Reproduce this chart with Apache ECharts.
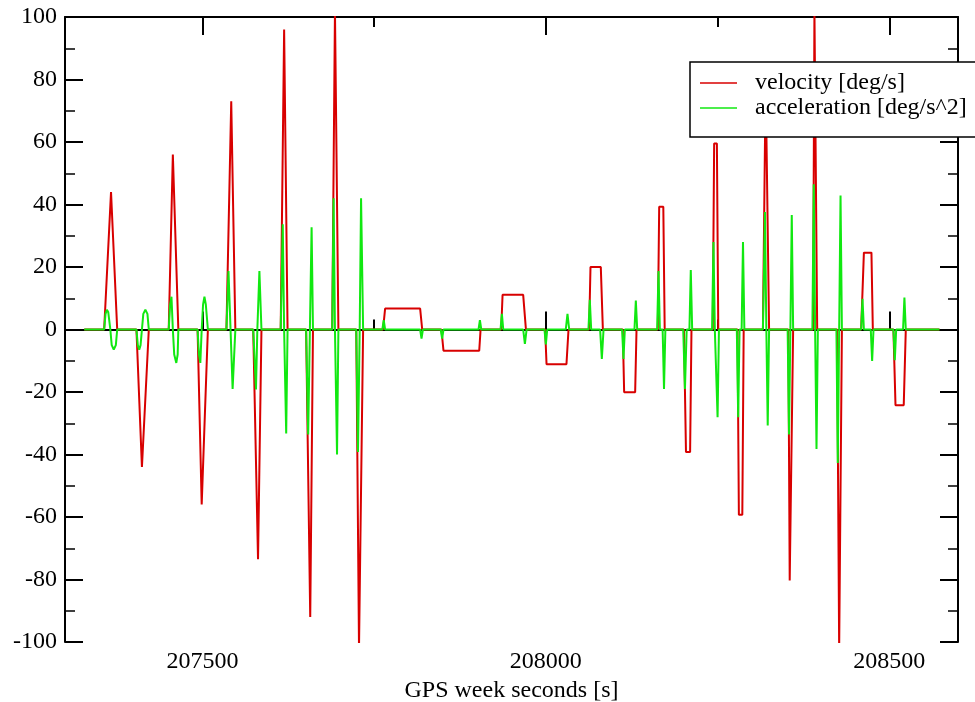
<!DOCTYPE html>
<html>
<head>
<meta charset="utf-8">
<script src="https://cdn.jsdelivr.net/npm/echarts@6/dist/echarts.min.js"></script>
<style>
  html, body { margin: 0; padding: 0; background: #fff; }
  #chart { width: 975px; height: 702px; }
</style>
</head>
<body>
<div id="chart"></div>
<script>
// [GPS week second, deg/s]
var velocity = [
    [207328, 0],
    [207357, 0], [207367, 44], [207376, 0],
    [207404, 0], [207412, -44], [207422, 0],
    [207451, 0], [207457, 56], [207465, 0],
    [207493, 0], [207499, -56], [207508, 0],
    [207535, 0], [207542, 73], [207548, 0],
    [207574, 0], [207581, -73.5], [207586, 0],
    [207614, 0], [207619, 96], [207624, 0],
    [207651, 0], [207657, -92], [207661, 0],
    [207689, 0], [207693, 102], [207698, 0],
    [207724, 0], [207728, -102], [207734, 0],
    [207763, 0], [207766, 6.7], [207817, 6.7], [207820, 0],
    [207848, 0], [207851, -6.8], [207903, -6.8], [207905, 0],
    [207935, 0], [207937, 11.1], [207967, 11.1], [207971, 0],
    [207999, 0], [208001, -11.1], [208030, -11.1], [208033, 0],
    [208063, 0], [208065, 20], [208080, 20], [208083, 0],
    [208112, 0], [208114, -20.1], [208130, -20.1], [208132, 0],
    [208163, 0], [208165, 39.3], [208171, 39.3], [208173, 0],
    [208201, 0], [208204, -39.2], [208210, -39.2], [208212, 0],
    [208243, 0], [208245, 59.5], [208249, 59.5], [208251, 0],
    [208279, 0], [208281, -59.3], [208286, -59.3], [208288, 0],
    [208316, 0], [208320, 80], [208322, 80], [208325, 0],
    [208353, 0], [208355, -80.3], [208357, -80.3], [208360, 0],
    [208389, 0], [208391, 102], [208395, 0],
    [208424, 0], [208427, -102], [208431, 0],
    [208459, 0], [208463, 24.6], [208474, 24.6], [208476, 0],
    [208506, 0], [208509, -24.2], [208521, -24.2], [208524, 0],
    [208573, 0]
];

// [GPS week second, deg/s^2]
var acceleration = [
    [207328, 0],
    [207357, 0], [207359, 5], [207361, 6.3], [207363, 5.5], [207366, 0], [207368, -5], [207371, -6.4], [207374, -5], [207376, 0],
    [207404, 0], [207406, -5], [207408, -6.5], [207410, -5], [207412, 0], [207414, 5], [207417, 6.3], [207420, 5], [207422, 0],
    [207451, 0], [207453, 8], [207455, 10.5], [207457, 0], [207459, -8], [207462, -10.7], [207464, -8], [207465, 0],
    [207493, 0], [207495, -8], [207497, -10.7], [207499, 0], [207501, 8], [207503, 10.5], [207505, 8], [207508, 0],
    [207535, 0], [207538, 18.7], [207541, 0], [207544, -19], [207548, 0],
    [207574, 0], [207578, -19.2], [207580, 0], [207583, 18.7], [207586, 0],
    [207614, 0], [207617, 33.7], [207619, 0], [207622, -33.3], [207624, 0],
    [207651, 0], [207654, -33.6], [207656.5, 0], [207659, 32.7], [207661, 0],
    [207689, 0], [207691, 42], [207693, 0], [207696, -40], [207698, 0],
    [207724, 0], [207726.5, -39.2], [207729, 0], [207731, 42], [207734, 0],
    [207762, 0], [207764, 3], [207766, 0], [207817, 0], [207819, -2.9], [207821, 0],
    [207847, 0], [207849, -2.9], [207851, 0], [207902, 0], [207904, 3], [207906, 0],
    [207934, 0], [207936, 5], [207938, 0], [207967, 0], [207969.5, -4.6], [207972, 0],
    [207998, 0], [208000, -4.8], [208002, 0], [208029, 0], [208031.5, 5], [208034, 0],
    [208062, 0], [208064, 9.5], [208066, 0], [208079, 0], [208081.5, -9.4], [208084, 0],
    [208111, 0], [208113, -9.4], [208115, 0], [208129, 0], [208131, 9.3], [208133, 0],
    [208162, 0], [208164, 18.7], [208166, 0], [208170, 0], [208172, -19], [208174, 0],
    [208200, 0], [208202.5, -19], [208205, 0], [208209, 0], [208211, 19], [208213, 0],
    [208242, 0], [208244, 28], [208246, 0], [208248, 0], [208250, -28.1], [208252, 0],
    [208278, 0], [208280, -28.1], [208282, 0], [208285, 0], [208287, 28], [208289, 0],
    [208316, 0], [208319, 37.6], [208321, 0], [208323, -30.7], [208325, 0],
    [208352, 0], [208354, -33.6], [208356, 0], [208358, 36.6], [208360, 0],
    [208388, 0], [208390, 46.5], [208392, 0], [208394, -38.2], [208396, 0],
    [208423, 0], [208425, -42.7], [208427, 0], [208429, 42.9], [208431, 0],
    [208459, 0], [208461, 9.8], [208463, 0], [208473, 0], [208475, -10.1], [208477, 0],
    [208506, 0], [208508, -9.8], [208510, 0], [208520, 0], [208522, 10.2], [208524, 0],
    [208573, 0]
];

var seriesNames = ['velocity [deg/s]', 'acceleration [deg/s^2]'];
var xMajorTicks = [207500, 208000, 208500];
var xMinorTicks = [207750, 208250];
var xRange = [207300, 208600];
var yRange = [-100, 100];

var font = 'Liberation Serif';
var black = '#000';

var xAxisBase = function (position, ticks, len, showLine, showLabel) {
    return {
        type: 'value',
        position: position,
        min: xRange[0],
        max: xRange[1],
        splitLine: {show: false},
        axisLine: {show: showLine, lineStyle: {color: black, width: 2}},
        axisTick: {show: true, inside: true, length: len, customValues: ticks,
                   lineStyle: {color: black, width: 2}},
        axisLabel: {show: showLabel, customValues: ticks, margin: 8,
                    formatter: function (v) { return String(v); },
                    color: black, fontFamily: font, fontSize: 24}
    };
};

var yAxisBase = function (position, showLabel) {
    return {
        type: 'value',
        position: position,
        min: yRange[0],
        max: yRange[1],
        interval: 20,
        splitLine: {show: false},
        axisLine: {show: true, onZero: false, lineStyle: {color: black, width: 2}},
        axisTick: {show: true, inside: true, length: 18, lineStyle: {color: black, width: 2}},
        minorTick: {show: true, splitNumber: 2, length: 10, lineStyle: {color: black, width: 1.5}},
        axisLabel: {show: showLabel, margin: 8, color: black, fontFamily: font, fontSize: 24}
    };
};

var bottomAxis = xAxisBase('bottom', xMajorTicks, 18, true, true);
bottomAxis.name = 'GPS week seconds [s]';
bottomAxis.nameLocation = 'middle';
bottomAxis.nameGap = 34;
bottomAxis.nameTextStyle = {color: black, fontFamily: font, fontSize: 24};

var option = {
    animation: false,
    backgroundColor: '#fff',
    grid: {left: 65, top: 17, width: 893, height: 625, containLabel: false, outerBoundsMode: 'none'},
    legend: {
        orient: 'vertical',
        left: 690,
        top: 62,
        data: seriesNames,
        icon: 'rect',
        itemWidth: 37,
        itemHeight: 1.5,
        itemGap: 1,
        padding: [9, 12, 17, 10],
        backgroundColor: '#fff',
        borderColor: black,
        borderWidth: 1.5,
        borderRadius: 0,
        textStyle: {color: black, fontFamily: font, fontSize: 24, lineHeight: 22,
                    padding: [0, 0, 0, 13]}
    },
    xAxis: [
        bottomAxis,
        xAxisBase('bottom', xMinorTicks, 10, false, false),
        xAxisBase('top', xMajorTicks, 18, true, false),
        xAxisBase('top', xMinorTicks, 10, false, false)
    ],
    yAxis: [
        yAxisBase('left', true),
        yAxisBase('right', false)
    ],
    series: [
        {
            name: seriesNames[0],
            type: 'line',
            data: velocity,
            xAxisIndex: 0,
            yAxisIndex: 0,
            symbol: 'none',
            clip: true,
            color: '#d80000',
            lineStyle: {color: '#d80000', width: 2}
        },
        {
            name: seriesNames[1],
            type: 'line',
            data: acceleration,
            xAxisIndex: 0,
            yAxisIndex: 0,
            symbol: 'none',
            clip: true,
            color: '#11e811',
            lineStyle: {color: '#11e811', width: 2}
        }
    ]
};

var chart = echarts.init(document.getElementById('chart'));
chart.setOption(option);
</script>
</body>
</html>
